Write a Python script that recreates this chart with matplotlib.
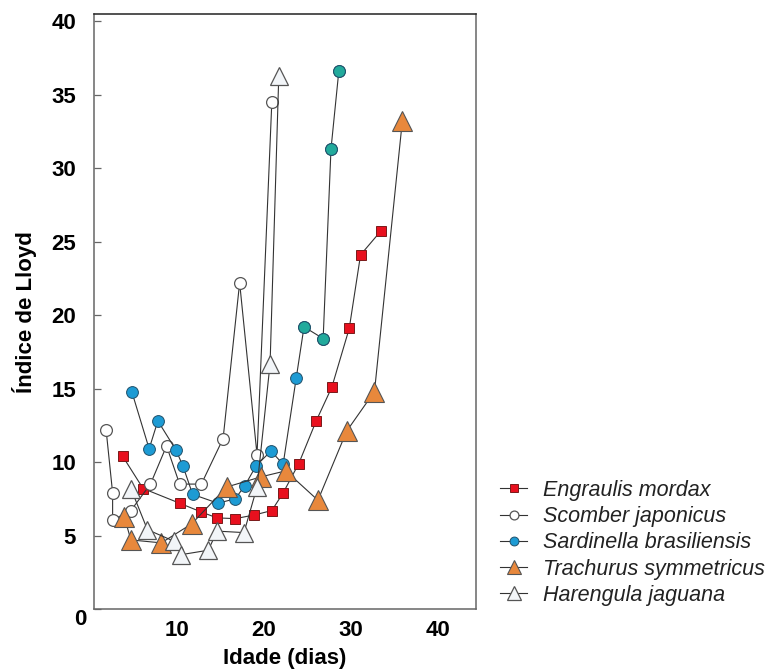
import numpy as np
import matplotlib
matplotlib.use('Agg')
import matplotlib.pyplot as plt
import matplotlib.transforms as mtransforms

plt.rcParams['font.family'] = ['Liberation Sans', 'DejaVu Sans']

#%% Lloyd index by larval age, one series per species
engraulis_age = [3.75, 6.1, 10.3, 12.8, 14.6, 16.7, 18.9, 20.9, 22.2, 24.0, 26.0, 27.8, 29.8, 31.1, 33.4]
engraulis_lloyd = [10.4, 8.2, 7.2, 6.6, 6.2, 6.15, 6.4, 6.7, 7.9, 9.9, 12.8, 15.1, 19.1, 24.1, 25.7]

scomber_age = [1.85, 2.6, 2.6, 4.7, 6.95, 8.8, 10.3, 12.8, 15.3, 17.2, 19.2, 20.9]
scomber_lloyd = [12.2, 7.9, 6.05, 6.7, 8.5, 11.1, 8.5, 8.5, 11.6, 22.2, 10.5, 34.5]

sardinella_age = [4.8, 6.8, 7.8, 9.9, 10.7, 11.8, 14.7, 16.7, 17.8, 19.1, 20.8, 22.2,
                  23.7, 24.6, 26.8, 27.7, 28.6]
sardinella_lloyd = [14.8, 10.9, 12.8, 10.8, 9.7, 7.8, 7.2, 7.5, 8.4, 9.75, 10.75, 9.85,
                    15.7, 19.2, 18.4, 31.3, 36.6]

trachurus_age = [3.95, 4.7, 8.2, 11.7, 15.7, 19.7, 22.5, 26.2, 29.5, 32.7, 35.9]
trachurus_lloyd = [6.25, 4.7, 4.5, 5.8, 8.3, 9.0, 9.4, 7.4, 12.1, 14.8, 33.2]

harengula_age = [4.7, 6.6, 9.7, 10.5, 13.6, 14.6, 17.7, 19.2, 20.7, 21.7]
harengula_lloyd = [8.2, 5.4, 4.6, 3.7, 4.0, 5.3, 5.2, 8.3, 16.7, 36.3]

# last sardinella points are drawn in a greener shade
sardinella_teal_from = 13

y_ticks = [0, 5, 10, 15, 20, 25, 30, 35, 40]
x_ticks = [10, 20, 30, 40]

#%% Figure
fig = plt.figure(figsize=(7.73, 6.71), dpi=100)
ax = fig.add_axes([0.1216, 0.0924, 0.4942, 0.8863])

line_kw = dict(color='#333333', lw=0.8)

ax.plot(engraulis_age, engraulis_lloyd, marker='s', ms=7, mfc='#e8101e', mec='#7a1a1a',
        mew=0.7, label='Engraulis mordax', zorder=3, **line_kw)
ax.plot(scomber_age, scomber_lloyd, marker='o', ms=8.5, mfc='white', mec='#555555',
        mew=0.9, label='Scomber japonicus', zorder=3, **line_kw)
ax.plot(sardinella_age, sardinella_lloyd, marker='o', ms=8.5, mfc='#1d9bd4', mec='#20506a',
        mew=0.7, label='Sardinella brasiliensis', zorder=3, **line_kw)
ax.plot(sardinella_age[sardinella_teal_from:], sardinella_lloyd[sardinella_teal_from:],
        ls='none', marker='o', ms=8.5, mfc='#22aa9c', mec='#20506a', mew=0.7, zorder=4)
ax.plot(trachurus_age, trachurus_lloyd, marker='^', ms=14, mfc='#e8883c', mec='#555555',
        mew=0.8, label='Trachurus symmetricus', zorder=3, **line_kw)
ax.plot(harengula_age, harengula_lloyd, marker='^', ms=12.5, mfc='#f2f5f8', mec='#555555',
        mew=0.9, label='Harengula jaguana', zorder=3, **line_kw)

ax.set_xlim(0.46, 44.37)
ax.set_ylim(0, 40.47)
ax.set_xticks(x_ticks)
ax.set_yticks(y_ticks)

ax.tick_params(axis='y', direction='in', length=5, width=0.9, color='#666666',
               pad=13, labelsize=16)
ax.tick_params(axis='x', length=0, pad=8, labelsize=16)
for lab in ax.get_xticklabels() + ax.get_yticklabels():
    lab.set_fontweight('bold')

# nudge the zero label down and right
zero_lab = ax.get_yticklabels()[0]
zero_lab.set_transform(zero_lab.get_transform() +
                       mtransforms.ScaledTranslation(11 / 100, -8 / 100, fig.dpi_scale_trans))

for side in ['left', 'bottom', 'right']:
    ax.spines[side].set_color('#666666')
    ax.spines[side].set_linewidth(1.1)
ax.spines['top'].set_color('#222222')
ax.spines['top'].set_linewidth(1.1)

ax.set_xlabel('Idade (dias)', fontsize=16, fontweight='bold', labelpad=5)
ax.set_ylabel('Índice de Lloyd', fontsize=16, fontweight='bold', labelpad=10)

leg = ax.legend(loc='upper left', bbox_to_anchor=(0.647, 0.2846),
                bbox_transform=fig.transFigure, frameon=False,
                prop={'style': 'italic', 'size': 15.5}, handlelength=1.25,
                handletextpad=0.75, labelspacing=0.24, borderpad=0, borderaxespad=0,
                markerscale=0.75)
for t in leg.get_texts():
    t.set_color('#222222')

plt.savefig('out.png', dpi=100)
